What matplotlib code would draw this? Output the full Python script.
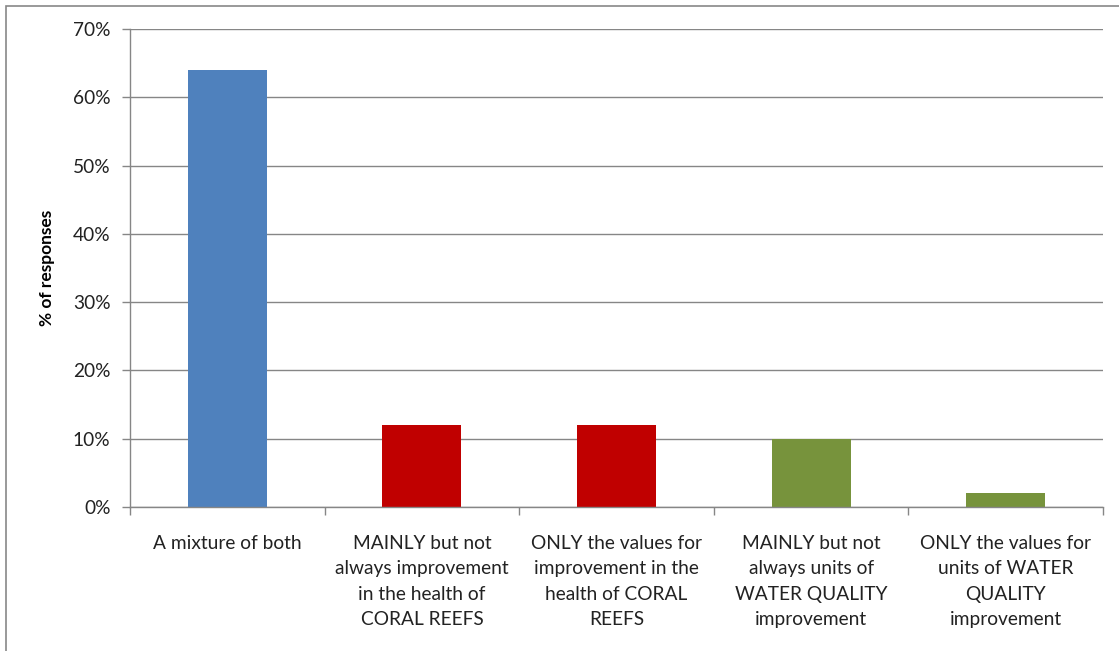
import matplotlib.pyplot as plt
import matplotlib.patches as mpatches
import numpy as np

categories = ["A mixture of both",
              "MAINLY but not\nalways improvement\nin the health of\nCORAL REEFS",
              "ONLY the values for\nimprovement in the\nhealth of CORAL\nREEFS",
              "MAINLY but not\nalways units of\nWATER QUALITY\nimprovement",
              "ONLY the values for\nunits of WATER\nQUALITY\nimprovement"]
values = [64, 12, 12, 10, 2]
colors = ["#4F81BD", "#C00000", "#C00000", "#77933C", "#77933C"]
yticks = [0, 10, 20, 30, 40, 50, 60, 70]

plt.rcParams['font.family'] = ['Lato', 'DejaVu Sans']
grid_c = "#868686"

fig = plt.figure(figsize=(11.19, 6.51), dpi=100)
ax = fig.add_axes([130/1119, 1-507/651, (1103-130)/1119, (507-29)/651])

x = np.arange(len(values))
ax.bar(x, values, width=0.405, color=colors, zorder=3)

ax.set_xlim(-0.5, len(values)-0.5)
ax.set_ylim(0, 70)
ax.set_yticks(yticks)
ax.set_yticklabels([f"{v}%" for v in yticks], fontsize=13.8, color="#222222")
ax.yaxis.grid(True, color=grid_c, linewidth=1, zorder=0)

ax.set_xticks(np.arange(-0.5, len(values), 1.0))
ax.set_xticklabels([])
ax.set_xticks(x, minor=True)
ax.set_xticklabels(categories, minor=True, fontsize=13.8, color="#222222", linespacing=1.6, va="top")
ax.tick_params(axis="x", which="minor", length=0, pad=20)
ax.tick_params(axis="x", which="major", length=6, color=grid_c, width=1)
ax.tick_params(axis="y", length=6, color=grid_c, width=1, pad=8)

for s in ["top", "right"]:
    ax.spines[s].set_visible(False)
for s in ["left", "bottom"]:
    ax.spines[s].set_color(grid_c)
    ax.spines[s].set_linewidth(1)
    ax.spines[s].set_zorder(4)

ax.set_ylabel("% of responses", fontsize=12.5, fontweight="bold", labelpad=13)

frame = mpatches.Rectangle((6/1119, -0.05), 1.1, 1-6/651+0.05, transform=fig.transFigure,
                           fill=False, edgecolor="#878787", linewidth=1.2)
fig.patches.append(frame)

fig.savefig("out.png", dpi=100)
